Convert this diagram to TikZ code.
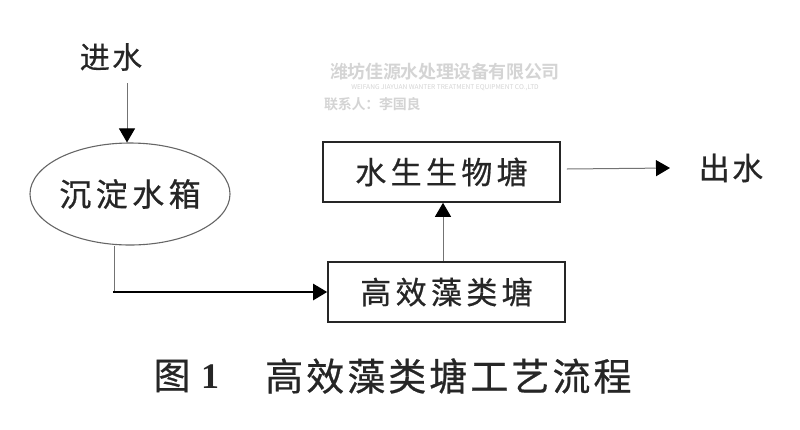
\documentclass[tikz,border=0pt]{standalone}
\usepackage{fontspec}
\usetikzlibrary{arrows.meta,shapes.geometric}
\newfontfamily\cjk[FakeBold=0.6]{Noto Sans CJK SC}
\newfontfamily\cjkA[LetterSpace=14,FakeBold=0.6]{Noto Sans CJK SC}
\newfontfamily\cjkB[LetterSpace=14,FakeBold=0.6]{Noto Sans CJK SC}
\newfontfamily\cjkC[LetterSpace=8,FakeBold=0.6]{Noto Sans CJK SC}
\newfontfamily\cjkWM[LetterSpace=-2]{Noto Sans CJK SC Bold}
\newfontfamily\cjkWMr{Noto Sans CJK SC}
\newfontfamily\digitfont{Liberation Serif}
\begin{document}
\begin{tikzpicture}[x=1pt,y=-1pt,
  thin line/.style={draw=black!55,line width=1pt},
  thick line/.style={draw=black,line width=2.4pt},
  tip/.style={-{Triangle[width=16pt,length=14pt,color=black]}},
  pond/.style={draw=black!85,line width=1.6pt,minimum width=237pt,minimum height=60pt,inner sep=0pt,font=\cjkB\fontsize{31}{31}\selectfont,text=black!85},
  lbl/.style={inner sep=0pt,text=black!85}]
\useasboundingbox (0,0) rectangle (800,429);
% watermark
\node[lbl,text=black!17,font=\cjkWM\fontsize{18}{18}\selectfont] (wm1) at (445,72) {潍坊佳源水处理设备有限公司};
\node[lbl,text=black!17,font=\cjkWMr\fontsize{6.6}{7}\selectfont] (wm2) at (445,88) {WEIFANG JIAYUAN WANTER TREATMENT EQUIPMENT CO.,LTD};
\node[lbl,text=black!17,font=\cjkWM\fontsize{14}{14}\selectfont,anchor=west] (wm3) at (324,104) {联系人：李国良};
% nodes
\node[lbl,font=\cjkC\fontsize{30}{30}\selectfont] (in) at (111,57) {进水};
\node[draw=black!60,line width=1.1pt,ellipse,minimum width=183pt,minimum height=102pt,inner sep=0pt,font=\cjkA\fontsize{32}{32}\selectfont,text=black!85] (tank) at (130,194) {沉淀水箱};
\node[pond] (bio) at (441.5,172) {水生生物塘};
\node[pond] (algae) at (446.5,292) {高效藻类塘};
\node[lbl,font=\cjkC\fontsize{31}{31}\selectfont] (out) at (731,168) {出水};
\coordinate (inend) at (127,83);
\coordinate (corner) at (114,292);
\coordinate (outend) at (670,168);
% connectors
\draw[thin line,tip] (inend) -- (tank.north -| inend);
\draw[thin line] (tank.south -| corner) -- (corner);
\draw[thick line,tip] ([xshift=-1.2pt]corner) -- (algae.west);
\draw[thin line,tip] (algae.north -| 443,0) -- (bio.south -| 443,0);
\draw[thin line,tip] (bio.east) ++(6,-3) -- (outend);
% caption
\node[lbl,font=\cjk\fontsize{37}{37}\selectfont] (fig) at (172,376) {图};
\node[lbl,font=\digitfont\bfseries\fontsize{36}{36}\selectfont] (num) at (210,377) {1};
\node[lbl,font=\cjkC\fontsize{38}{38}\selectfont,anchor=west] (cap) at (265,376) {高效藻类塘工艺流程};
\end{tikzpicture}
\end{document}
